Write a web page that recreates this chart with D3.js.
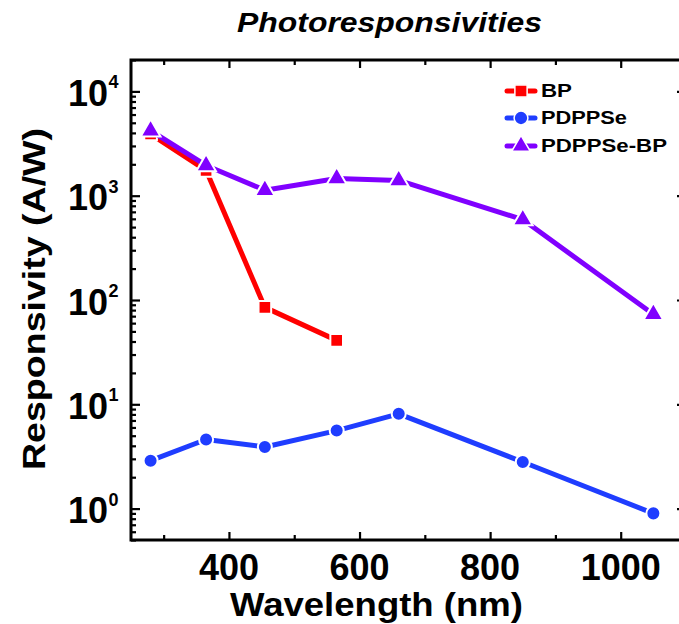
<!DOCTYPE html>
<html>
<head>
<meta charset="utf-8">
<script src="https://cdn.jsdelivr.net/npm/d3@7"></script>
<style>
  body { margin: 0; background: #fff; }
  svg { display: block; font-family: "Liberation Sans", Arial, sans-serif; }
</style>
</head>
<body>
<svg id="chart" width="679" height="624"></svg>
<script>
// data
var wavelengths = [280, 365, 455, 565, 660, 850, 1050];
var bpWavelengths = [280, 365, 455, 565];
var bpValues = [3900, 1750, 85, 41];
var pdppseValues = [2.88, 4.6, 3.9, 5.6, 8.1, 2.8, 0.9];
var hybridValues = [4200, 1950, 1130, 1460, 1400, 590, 73];
var xTicks = [400, 600, 800, 1000];
var yDecades = [1, 10, 100, 1000, 10000];
var seriesNames = ["BP", "PDPPSe", "PDPPSe-BP"];

var svg = d3.select("#chart"),
    plotLeft = 131, plotRight = 686, plotTop = 60, plotBottom = 540;

var x = d3.scaleLinear().domain([250, 1100]).range([plotLeft, plotRight]);
var y = d3.scaleLog().domain([0.5, 20000]).range([plotBottom, plotTop]);

var xMinor = d3.range(300, 1100, 100).filter(function(v){ return xTicks.indexOf(v) < 0; });
var yMinor = [];
[0.1, 1, 10, 100, 1000, 10000].forEach(function(d){
  for (var k = 2; k <= 9; k++) {
    var v = d * k;
    if (v >= 0.5 && v <= 20000) yMinor.push(v);
  }
});

var axisG = svg.append("g").attr("class", "axes");

function styleAxis(g){
  g.select(".domain").remove();
  g.selectAll("line").attr("stroke", "#000").attr("stroke-width", 2.2);
}

// bottom & top
axisG.append("g").attr("transform", "translate(0," + plotBottom + ")")
  .call(d3.axisBottom(x).tickValues(xTicks).tickSize(-8).tickFormat("")).call(styleAxis);
axisG.append("g").attr("transform", "translate(0," + plotBottom + ")")
  .call(d3.axisBottom(x).tickValues(xMinor).tickSize(-5).tickFormat("")).call(styleAxis);
axisG.append("g").attr("transform", "translate(0," + plotTop + ")")
  .call(d3.axisTop(x).tickValues(xTicks).tickSize(-8).tickFormat("")).call(styleAxis);
axisG.append("g").attr("transform", "translate(0," + plotTop + ")")
  .call(d3.axisTop(x).tickValues(xMinor).tickSize(-5).tickFormat("")).call(styleAxis);
// left & right
axisG.append("g").attr("transform", "translate(" + plotLeft + ",0)")
  .call(d3.axisLeft(y).tickValues(yDecades).tickSize(-9).tickFormat("")).call(styleAxis);
axisG.append("g").attr("transform", "translate(" + plotLeft + ",0)")
  .call(d3.axisLeft(y).tickValues(yMinor).tickSize(-5).tickFormat("")).call(styleAxis);
axisG.append("g").attr("transform", "translate(" + plotRight + ",0)")
  .call(d3.axisRight(y).tickValues(yDecades).tickSize(-9).tickFormat("")).call(styleAxis);
axisG.append("g").attr("transform", "translate(" + plotRight + ",0)")
  .call(d3.axisRight(y).tickValues(yMinor).tickSize(-5).tickFormat("")).call(styleAxis);

// frame
axisG.append("rect")
  .attr("x", plotLeft).attr("y", plotTop)
  .attr("width", plotRight - plotLeft).attr("height", plotBottom - plotTop)
  .attr("fill", "none").attr("stroke", "#000").attr("stroke-width", 3);

// tick labels
svg.append("g").selectAll("text")
  .data(xTicks).enter().append("text")
  .attr("x", function(d){ return x(d); })
  .attr("y", 580)
  .attr("text-anchor", "middle")
  .style("font-size", "36px").style("font-weight", "bold")
  .text(function(d){ return d; });

var yl = svg.append("g").selectAll("g")
  .data(yDecades).enter().append("g");
yl.append("text")
  .attr("x", 108)
  .attr("y", function(d){ return y(d) + 14.5; })
  .attr("text-anchor", "end")
  .style("font-size", "36px").style("font-weight", "bold")
  .text("10");
yl.append("text")
  .attr("x", 108.5)
  .attr("y", function(d){ return y(d) - 3; })
  .style("font-size", "18px").style("font-weight", "bold")
  .text(function(d){ return Math.round(Math.log10(d)); });

// axis titles
svg.append("text")
  .attr("x", 230).attr("y", 616)
  .attr("textLength", 293).attr("lengthAdjust", "spacingAndGlyphs")
  .style("font-size", "33px").style("font-weight", "bold")
  .text("Wavelength (nm)");

svg.append("text")
  .attr("transform", "translate(45,470) rotate(-90)")
  .attr("textLength", 342).attr("lengthAdjust", "spacingAndGlyphs")
  .style("font-size", "32px").style("font-weight", "bold")
  .text("Responsivity (A/W)");

svg.append("text")
  .attr("x", 237).attr("y", 32)
  .attr("textLength", 305).attr("lengthAdjust", "spacingAndGlyphs")
  .style("font-size", "27px").style("font-weight", "bold").style("font-style", "italic")
  .text("Photoresponsivities");

// series
var series = [
  {name: seriesNames[1], xs: wavelengths, ys: pdppseValues, color: "#1f3dff", symbol: d3.symbolCircle, size: 155},
  {name: seriesNames[0], xs: bpWavelengths, ys: bpValues, color: "#ff0000", symbol: d3.symbolSquare, size: 160},
  {name: seriesNames[2], xs: wavelengths, ys: hybridValues, color: "#8000ff", symbol: d3.symbolTriangle, size: 170}
];

var line = d3.line()
  .x(function(d){ return x(d[0]); })
  .y(function(d){ return y(d[1]); });

var plot = svg.append("g").attr("class", "series");
series.forEach(function(s){
  var pts = d3.zip(s.xs, s.ys);
  var g = plot.append("g");
  g.append("path")
    .datum(pts)
    .attr("d", line)
    .attr("fill", "none")
    .attr("stroke", s.color)
    .attr("stroke-width", 5)
    .attr("stroke-linecap", "round")
    .attr("stroke-linejoin", "round");
  g.selectAll("path.m")
    .data(pts).enter().append("path")
    .attr("class", "m")
    .attr("transform", function(d){ return "translate(" + x(d[0]) + "," + y(d[1]) + ")"; })
    .attr("d", d3.symbol().type(s.symbol).size(s.size))
    .attr("fill", s.color)
    .attr("stroke", "#fff")
    .attr("stroke-width", 2);
});

// legend
var legendOrder = [series[1], series[0], series[2]];
var legendRows = [97, 124, 152];
var legendWidths = [31, 86, 126];
var lg = svg.append("g").attr("class", "legend");
legendOrder.forEach(function(s, i){
  var cy = legendRows[i] - 6;
  lg.append("line")
    .attr("x1", 507).attr("x2", 535)
    .attr("y1", cy).attr("y2", cy)
    .attr("stroke", s.color).attr("stroke-width", 5)
    .attr("stroke-linecap", "round");
  lg.append("path")
    .attr("transform", "translate(521," + cy + ")")
    .attr("d", d3.symbol().type(s.symbol).size(150))
    .attr("fill", s.color)
    .attr("stroke", "#fff").attr("stroke-width", 1.5);
  lg.append("text")
    .attr("x", 541).attr("y", legendRows[i])
    .attr("textLength", legendWidths[i]).attr("lengthAdjust", "spacingAndGlyphs")
    .style("font-size", "18px").style("font-weight", "bold")
    .text(s.name);
});
</script>
</body>
</html>
